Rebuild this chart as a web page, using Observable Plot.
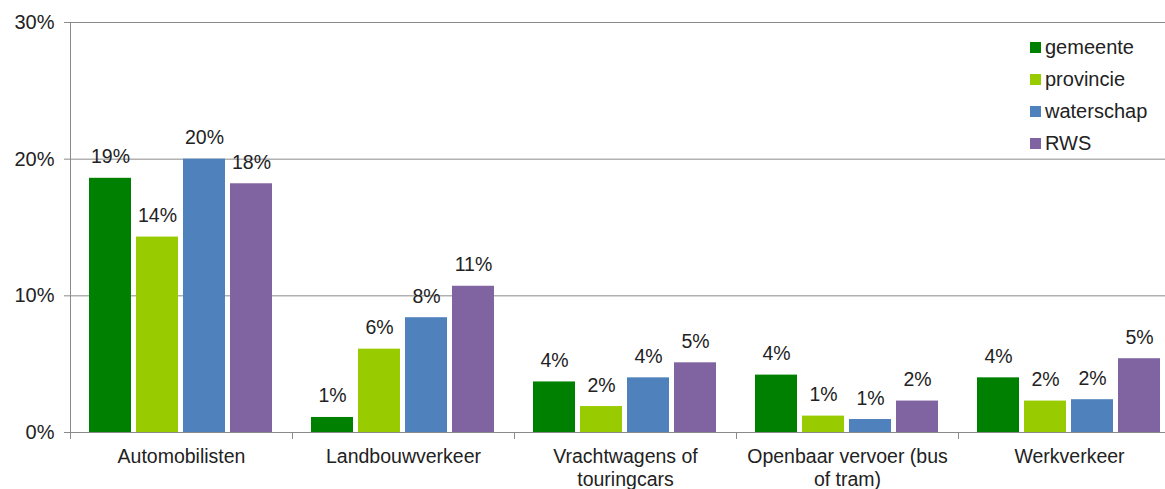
<!DOCTYPE html>
<html>
<head>
<meta charset="utf-8">
<script src="https://cdn.jsdelivr.net/npm/d3@7"></script>
<script src="https://cdn.jsdelivr.net/npm/@observablehq/plot@0.6"></script>
<style>
  html, body { margin: 0; padding: 0; background: #fff; overflow: hidden; }
  #wrap { position: relative; width: 1165px; height: 489px; overflow: hidden; }
  #chart { width: 1182px; }
  #legend { position: absolute; left: 1030px; top: 31px; font-family: "Liberation Sans", Arial, sans-serif; font-size: 20px; color: #222; }
  #legend .row { height: 32px; display: flex; align-items: center; }
  #legend .sw { width: 11px; height: 11px; margin-right: 4px; display: inline-block; }
</style>
</head>
<body>
<div id="wrap"><div id="chart"></div><div id="legend"></div></div>
<script>
const categories = ["Automobilisten", "Landbouwverkeer", "Vrachtwagens of touringcars", "Openbaar vervoer (bus of tram)", "Werkverkeer"];
const categoryLabels = ["Automobilisten", "Landbouwverkeer", "Vrachtwagens of\ntouringcars", "Openbaar vervoer (bus\nof tram)", "Werkverkeer"];
const series = ["gemeente", "provincie", "waterschap", "RWS"];
const gemeente = [18.6, 1.1, 3.7, 4.2, 4.0];
const provincie = [14.3, 6.1, 1.9, 1.2, 2.3];
const waterschap = [20.0, 8.4, 4.0, 0.95, 2.4];
const rws = [18.2, 10.7, 5.1, 2.3, 5.4];
const colors = ["#008000", "#99cc00", "#4f81bd", "#8064a2"];
const yTicks = [0, 10, 20, 30];

const seriesValues = [gemeente, provincie, waterschap, rws];
const data = [];
categories.forEach((c, i) => {
  series.forEach((s, j) => data.push({category: c, series: s, value: seriesValues[j][i]}));
});

const gridColor = "#8a8a8a";
const font = "'Liberation Sans', Arial, sans-serif";

const chart = Plot.plot({
  width: 1182,
  height: 489,
  marginTop: 22,
  marginBottom: 57,
  marginLeft: 68,
  marginRight: 0,
  style: {fontFamily: font, color: "#222", background: "#fff", maxWidth: "none"},
  fx: {domain: categories, padding: 0, label: null},
  x: {domain: series, paddingInner: 0.104, paddingOuter: 0.375, axis: null},
  y: {domain: [0, 30], axis: null},
  color: {domain: series, range: colors},
  marks: [
    Plot.gridY(yTicks, {stroke: gridColor, strokeOpacity: 1}),
    Plot.axisY(yTicks, {tickSize: 6, tickPadding: 10, tickFormat: d => d + "%", fontSize: 20, stroke: gridColor, strokeOpacity: 1, label: null}),
    Plot.frame({anchor: "left", facetAnchor: "left", stroke: gridColor, insetBottom: -6}),
    Plot.frame({anchor: "left", stroke: gridColor, insetTop: 410, insetBottom: -6}),
    Plot.barY(data, {fx: "category", x: "series", y: "value", fill: "series"}),
    Plot.ruleY([0], {stroke: gridColor}),
    Plot.text(data, {fx: "category", x: "series", y: "value", text: d => Math.round(d.value) + "%", lineAnchor: "bottom", dy: -15, fontSize: 19.5, fill: "#222"}),
    Plot.axisFx({anchor: "bottom", tickSize: 0, tickPadding: 14, tickFormat: d => categoryLabels[categories.indexOf(d)], fontSize: 19.5, lineHeight: 1.18, label: null})
  ]
});
document.getElementById("chart").appendChild(chart);

const legend = document.getElementById("legend");
series.forEach((s, i) => {
  const row = document.createElement("div");
  row.className = "row";
  const sw = document.createElement("span");
  sw.className = "sw";
  sw.style.background = colors[i];
  row.appendChild(sw);
  row.appendChild(document.createTextNode(s));
  legend.appendChild(row);
});
</script>
</body>
</html>
